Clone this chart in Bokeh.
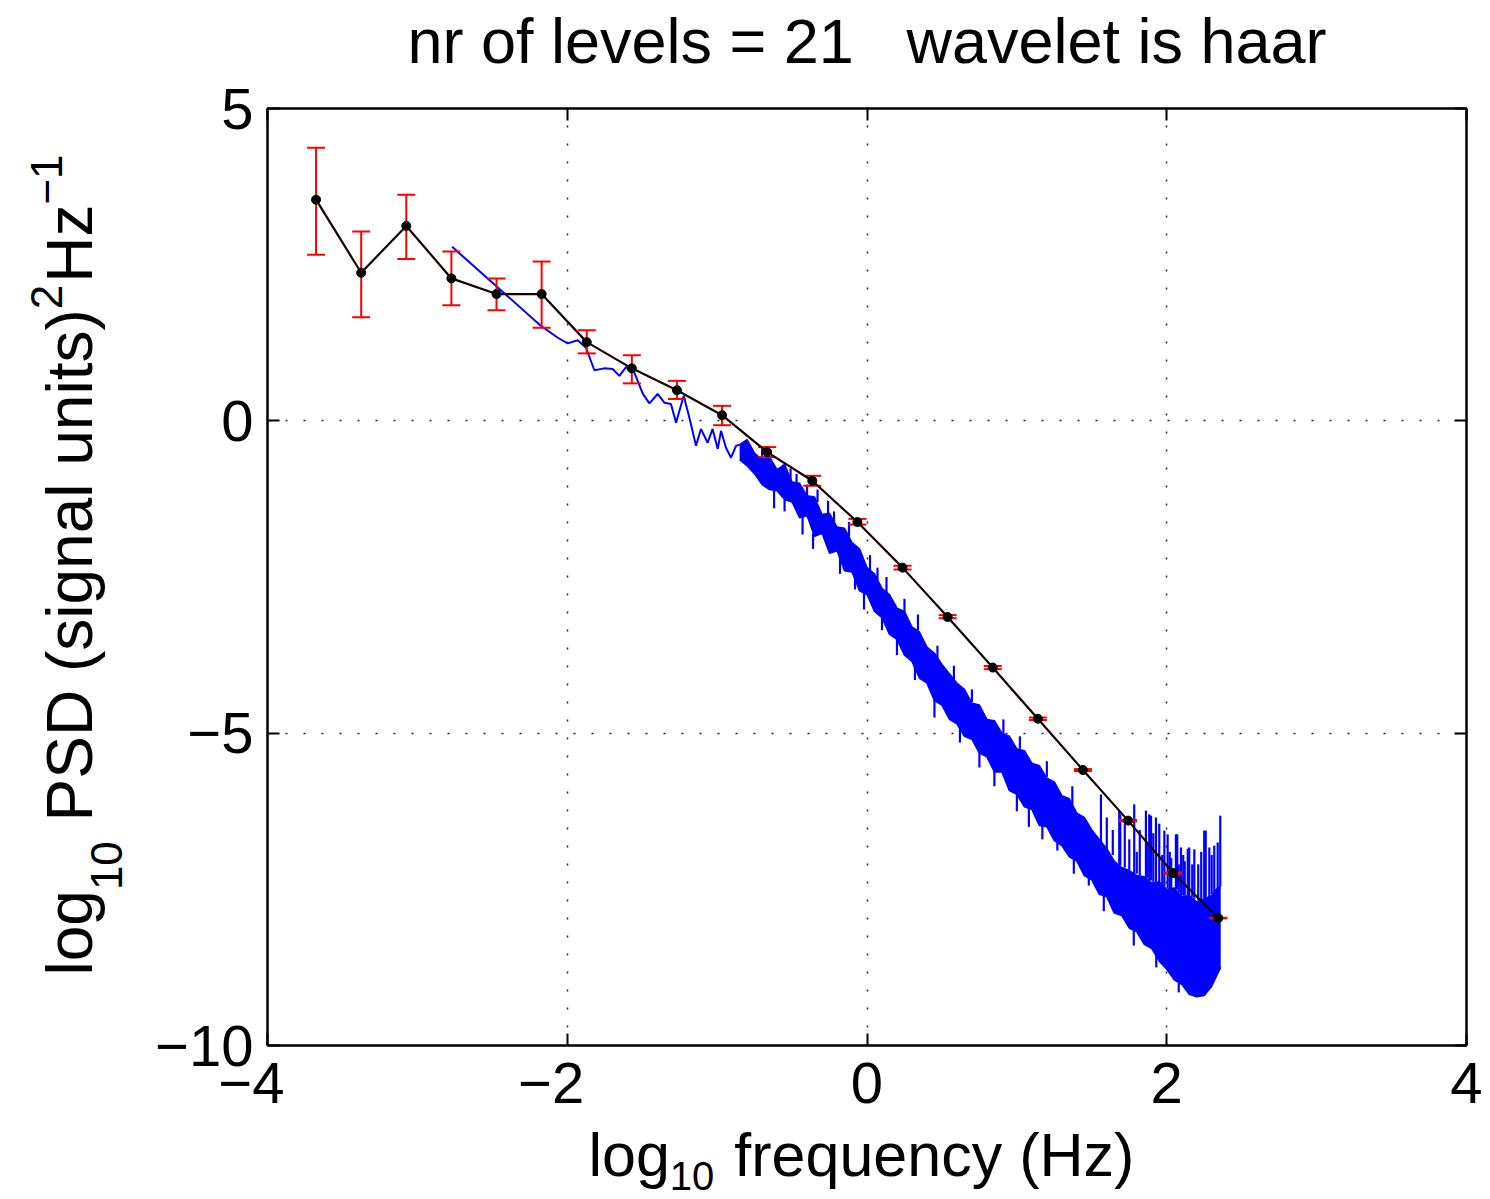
import math
from bokeh.plotting import figure
from bokeh.models import Range1d, FixedTicker, LinearAxis
from bokeh.layouts import row, column
from bokeh.core.properties import value
from bokeh.embed import file_html
from bokeh.resources import INLINE

NB = "\u00a0"
# ---------------- data ----------------
TITLE = "nr of levels = 21   wavelet is haar"
X_TICKS = [-4, -2, 0, 2, 4]
Y_TICKS = [-10, -5, 0, 5]
X_TICK_LABELS = ["\u22124" + NB + NB, "\u22122" + NB + NB, "0", "2", "4"]
Y_TICK_LABELS = ["\u221210", "\u22125", "0", "5"]
X_LABEL_PARTS = [("log", "n"), ("10", "sub"), (" frequency (Hz)", "n")]
Y_LABEL_PARTS = [("log", "n"), ("10", "sub"), (" PSD (signal units)", "n"),
                 ("2", "sup"), ("Hz", "n"), ("\u22121", "sup")]

# wavelet estimate (black dots) with error bars (red)
wav_x = [-3.676, -3.375, -3.074, -2.773, -2.472, -2.171, -1.870, -1.569, -1.268, -0.967,
         -0.666, -0.365, -0.064, 0.237, 0.538, 0.839, 1.140, 1.441, 1.742, 2.043, 2.344]
wav_y = [3.54, 2.37, 3.12, 2.28, 2.03, 2.03, 1.26, 0.84, 0.49, 0.09,
         -0.50, -0.96, -1.62, -2.35, -3.14, -3.95, -4.77, -5.59, -6.40, -7.24, -7.96]
err_lo = [2.66, 1.66, 2.59, 1.85, 1.77, 1.49, 1.08, 0.60, 0.35, -0.07,
          -0.58, -1.04, -1.66, -2.38, -3.16, -3.975, -4.79, -5.605, -6.412, -7.25, -7.965]
err_hi = [4.37, 3.03, 3.62, 2.71, 2.28, 2.55, 1.45, 1.05, 0.64, 0.24,
          -0.42, -0.88, -1.57, -2.32, -3.11, -3.925, -4.75, -5.575, -6.388, -7.23, -7.955]

# periodogram (blue), low-frequency part as a line
lf_x = [-2.768, -2.175, -2.063, -1.997, -1.930, -1.875, -1.819, -1.753, -1.697, -1.652,
        -1.608, -1.552, -1.497, -1.452, -1.397, -1.352, -1.308, -1.274, -1.223, -1.185,
        -1.141, -1.108, -1.063, -1.030, -0.996, -0.974, -0.941, -0.907, -0.874, -0.850]
lf_y = [2.785, 1.52, 1.33, 1.24, 1.29, 1.17, 0.81, 0.84, 0.83, 0.72,
        0.86, 0.77, 0.44, 0.28, 0.43, 0.29, 0.27, -0.03, 0.40, 0.05,
        -0.40, -0.13, -0.35, -0.13, -0.45, -0.16, -0.43, -0.59, -0.40, -0.38]

# periodogram, higher-frequency part as a noisy band (upper / lower envelope)
band_x = [-0.85, -0.80, -0.75, -0.70, -0.65, -0.60, -0.55, -0.50, -0.45, -0.40,
          -0.35, -0.30, -0.25, -0.20, -0.15, -0.10, -0.05, 0.00, 0.05, 0.10,
          0.15, 0.20, 0.25, 0.30, 0.35, 0.40, 0.45, 0.50, 0.55, 0.60,
          0.65, 0.70, 0.75, 0.80, 0.85, 0.90, 0.95, 1.00, 1.05, 1.10,
          1.15, 1.20, 1.25, 1.30, 1.35, 1.40, 1.45, 1.50, 1.55, 1.60,
          1.65, 1.70, 1.75, 1.80, 1.85, 1.90, 1.95, 2.00, 2.05, 2.10,
          2.15, 2.20, 2.25, 2.30, 2.33, 2.36]
band_hi = [-0.38, -0.30, -0.52, -0.62, -0.58, -0.78, -0.70, -0.98, -1.00, -1.20,
           -1.22, -1.50, -1.48, -1.70, -1.72, -1.95, -2.05, -2.35, -2.45, -2.68,
           -2.78, -3.00, -3.05, -3.30, -3.38, -3.62, -3.72, -3.90, -4.05, -4.20,
           -4.30, -4.52, -4.55, -4.78, -4.80, -5.00, -5.05, -5.25, -5.28, -5.48,
           -5.52, -5.72, -5.78, -6.00, -6.05, -6.28, -6.35, -6.55, -6.70, -6.85,
           -7.05, -7.15, -7.20, -7.28, -7.30, -7.40, -7.38, -7.50, -7.48, -7.62,
           -7.60, -7.70, -7.65, -7.60, -7.50, -7.45]
band_lo = [-0.62, -0.72, -0.85, -1.02, -1.10, -1.12, -1.26, -1.30, -1.55, -1.52,
           -1.85, -1.80, -2.12, -2.08, -2.40, -2.42, -2.72, -2.78, -3.05, -3.15,
           -3.42, -3.50, -3.75, -3.85, -4.12, -4.20, -4.48, -4.55, -4.78, -4.85,
           -5.05, -5.10, -5.32, -5.38, -5.62, -5.62, -5.92, -5.98, -6.18, -6.22,
           -6.48, -6.50, -6.72, -6.80, -6.98, -7.05, -7.28, -7.35, -7.58, -7.62,
           -7.88, -7.92, -8.12, -8.18, -8.38, -8.45, -8.65, -8.78, -8.95, -9.02,
           -9.18, -9.22, -9.20, -9.05, -8.90, -8.75]

# isolated spikes of the periodogram (x, start, end)
spike_x = [1.561, 1.683, 1.69, 1.72, 1.783, 1.82, 1.861, 1.883, 1.895, 1.928,
           1.95, 1.984, 2.006, 2.03, 2.061, 2.07, 2.095, 2.12, 2.14, 2.150,
           2.184, 2.21, 2.250, 2.26, 2.284, 2.317, 2.357,
           1.60, 1.64, 1.75, 1.80, 1.87, 1.91, 1.97, 2.02, 2.08, 2.11, 2.17, 2.23, 2.30, 2.34,
           -0.56, -0.51, -0.47, -0.33, -0.26, -0.12, 0.02, 0.13, 0.34, 0.58, 0.91,
           -0.70, -0.40, -0.22, 0.07, 0.25, 0.47, 0.70, 1.02, 1.20, 1.37,
           -0.62, -0.43, -0.36, -0.18, -0.02, 0.20, 0.45, 0.62, 0.85, 1.08, 1.27, 1.48,
           -0.55, -0.08, 0.10, 0.32, 0.75, 1.00, 1.17, 1.38, 1.58, 1.78, 1.93, 2.08]
spike_base = [-6.75, -7.10, -7.12, -7.15, -7.25, -7.28, -7.30, -7.35, -7.36, -7.38,
              -7.40, -7.45, -7.48, -7.50, -7.50, -7.50, -7.60, -7.60, -7.62, -7.60,
              -7.65, -7.68, -7.65, -7.65, -7.62, -7.55, -7.45,
              -6.85, -6.95, -7.20, -7.25, -7.32, -7.38, -7.42, -7.48, -7.55, -7.60, -7.62,
              -7.66, -7.58, -7.50,
              -0.85, -1.00, -1.05, -1.30, -1.50, -1.85, -2.40, -2.75, -3.35, -4.15, -5.00,
              -0.62, -1.20, -1.62, -2.55, -3.05, -3.80, -4.50, -5.25, -5.70, -6.15,
              -1.10, -1.53, -1.80, -2.10, -2.75, -3.50, -4.45, -4.85, -5.60, -6.15, -6.60, -7.25,
              -1.26, -2.45, -3.15, -3.90, -5.30, -5.98, -6.48, -7.02, -7.60, -8.15, -8.55, -9.00]
spike_tip = [-5.98, -6.24, -6.30, -6.45, -6.14, -6.55, -6.24, -6.30, -6.32, -6.35,
             -6.45, -6.56, -6.62, -7.00, -6.62, -6.62, -6.83, -7.05, -6.85, -6.83,
             -6.86, -7.10, -6.56, -6.56, -6.83, -6.80, -6.32,
             -6.35, -6.55, -6.70, -6.90, -6.75, -6.60, -6.95, -6.90, -7.10, -6.95, -7.10,
             -6.90, -6.95, -6.75,
             -0.70, -0.76, -0.85, -1.10, -1.28, -1.62, -2.15, -2.50, -3.10, -3.92, -4.78,
             -0.45, -1.02, -1.45, -2.35, -2.85, -3.60, -4.30, -5.05, -5.45, -5.85,
             -1.40, -1.82, -2.05, -2.45, -3.02, -3.75, -4.75, -5.15, -5.85, -6.50, -6.88, -7.44,
             -1.45, -2.70, -3.35, -4.15, -5.55, -6.25, -6.70, -7.25, -7.85, -8.40, -8.75, -9.15]

# ---------------- layout / style ----------------
W, H = 1490, 1199
YLAB_W = 150                       # strip carrying the y-axis label
MAIN_H = 1119                      # main plot height; x-label strip below
FRAME_L, FRAME_R = 267, 1466       # page x of the plot frame
L, R, T = FRAME_L - YLAB_W, W - FRAME_R, 108
B = MAIN_H - T - 937
X0, X1, Y0, Y1 = -4.0, 4.0, -10.0, 5.0
FONT = "Liberation Sans"
TICK_FS = 58
XLAB_FS, XSUB_FS = 61, 40
YLAB_FS, YSUB_FS = 64, 44
X_BASE, X_SUB_BASE = 1176, 1190
BASE_SHIFT = 0.36                  # glyph anchor sits this many em above the baseline

ARIAL = {"l": 222, "o": 556, "g": 556, "1": 556, "0": 556, " ": 278, "f": 278, "r": 333,
         "e": 556, "q": 556, "u": 556, "n": 556, "c": 500, "y": 500, "(": 333, "H": 722,
         "z": 500, ")": 333, "P": 667, "S": 667, "D": 722, "s": 500, "i": 222, "a": 556,
         "t": 278, "2": 556, "\u2212": 584}


def text_w(s, fs):
    return sum(ARIAL.get(ch, 556) for ch in s) / 1000.0 * fs


def nb(s):
    return s.replace(" ", NB)


p = figure(width=W - YLAB_W, height=MAIN_H, output_backend="svg", toolbar_location=None,
           title=None, x_range=Range1d(X0, X1), y_range=Range1d(Y0, Y1),
           min_border_left=L, min_border_right=R, min_border_top=T, min_border_bottom=B,
           background_fill_color="white", border_fill_color="white")
p.outline_line_color = "black"
p.outline_line_width = 2

for ax in (p.xaxis[0], p.yaxis[0]):
    ax.major_tick_in = 12
    ax.major_tick_out = 0
    ax.minor_tick_line_color = None
    ax.axis_line_width = 2
    ax.major_tick_line_width = 2
    ax.major_label_text_font = FONT
    ax.major_label_text_font_size = f"{TICK_FS}px"
    ax.major_label_text_color = "black"
p.xaxis[0].ticker = FixedTicker(ticks=X_TICKS)
p.yaxis[0].ticker = FixedTicker(ticks=Y_TICKS)
p.xaxis[0].major_label_overrides = {t: s for t, s in zip(X_TICKS, X_TICK_LABELS)}
p.yaxis[0].major_label_overrides = {t: s for t, s in zip(Y_TICKS, Y_TICK_LABELS)}
p.xaxis[0].major_label_standoff = 4
p.yaxis[0].major_label_standoff = 14

# top axis (ticks only) carries the title as its axis label; right axis ticks only
top_ax = LinearAxis(ticker=FixedTicker(ticks=X_TICKS), major_tick_in=12, major_tick_out=0,
                    minor_tick_line_color=None, major_label_text_font_size="0px",
                    major_label_text_color=None,
                    axis_line_width=2, major_tick_line_width=2, major_label_standoff=0,
                    axis_label=nb(TITLE), axis_label_text_font=FONT,
                    axis_label_text_font_size="63px", axis_label_text_font_style="normal",
                    axis_label_text_color="black", axis_label_standoff=33)
right_ax = LinearAxis(ticker=FixedTicker(ticks=Y_TICKS), major_tick_in=12, major_tick_out=0,
                      minor_tick_line_color=None, major_label_text_font_size="0px",
                      major_label_text_color=None,
                      axis_line_width=2, major_tick_line_width=2, major_label_standoff=0)
p.add_layout(top_ax, "above")
p.add_layout(right_ax, "right")

for g, tk in ((p.xgrid[0], X_TICKS), (p.ygrid[0], Y_TICKS)):
    g.ticker = FixedTicker(ticks=tk)
    g.grid_line_color = "black"
    g.grid_line_dash = "2 16"
    g.grid_line_width = 1.5
    g.grid_line_alpha = 0.85

BLUE = "#0000ff"
RED = "#ff0000"

# periodogram
p.varea(x=band_x, y1=band_lo, y2=band_hi, fill_color=BLUE)
p.line(band_x, band_hi, line_color=BLUE, line_width=1.5)
p.line(band_x, band_lo, line_color=BLUE, line_width=1.5)
p.segment(x0=spike_x, y0=spike_base, x1=spike_x, y1=spike_tip, line_color=BLUE, line_width=2.2)
p.line(lf_x, lf_y, line_color=BLUE, line_width=2)

# error bars
p.segment(x0=wav_x, y0=err_lo, x1=wav_x, y1=err_hi, line_color=RED, line_width=2)
p.scatter(wav_x, err_lo, marker="dash", size=18, line_color=RED, line_width=2)
p.scatter(wav_x, err_hi, marker="dash", size=18, line_color=RED, line_width=2)

# wavelet estimate
p.line(wav_x, wav_y, line_color="#150000", line_width=2.2)
p.scatter(wav_x, wav_y, marker="circle", size=9, fill_color="black", line_color="black")


def label_strip(width, height, xr, yr):
    f = figure(width=width, height=height, output_backend="svg", toolbar_location=None,
               title=None, x_range=Range1d(*xr), y_range=Range1d(*yr),
               x_axis_type=None, y_axis_type=None,
               min_border_left=0, min_border_right=0, min_border_top=0, min_border_bottom=0,
               background_fill_color="white", border_fill_color="white")
    f.outline_line_color = None
    return f


# x-axis label strip: its frame is aligned with the main frame (page x 267..1466),
# vertically it spans page y MAIN_H..H (flipped range -> page pixels)
xl = label_strip(W - YLAB_W, H - MAIN_H, (FRAME_L, FRAME_R), (H, MAIN_H))
cx = 588
for txt, kind in X_LABEL_PARTS:
    fs = XLAB_FS if kind == "n" else XSUB_FS
    base = X_BASE if kind == "n" else X_SUB_BASE
    xl.text(x=[cx], y=[base - BASE_SHIFT * fs], text=[nb(txt)], text_align=value("left"),
            text_baseline=value("alphabetic"), text_font=value(FONT),
            text_font_size=value(f"{fs}px"), text_color="black")
    cx += text_w(txt, fs) + (3 if kind != "n" else 0)

# y-axis label strip (rotated text, page pixel coordinates)
yl = label_strip(YLAB_W, H, (0, YLAB_W), (H, 0))
cy = 975
for txt, kind in Y_LABEL_PARTS:
    fs = YLAB_FS if kind == "n" else YSUB_FS
    base = {"n": 93, "sub": 122, "sup": 62}[kind]
    yl.text(x=[base - BASE_SHIFT * fs], y=[cy], text=[nb(txt)], angle=math.pi / 2,
            text_align=value("left"), text_baseline=value("alphabetic"),
            text_font=value(FONT), text_font_size=value(f"{fs}px"), text_color="black")
    cy -= text_w(txt, fs) + (2 if kind != "n" else 0)

layout = row(yl, column(p, xl, spacing=0), spacing=0)
open("out.html", "w").write(file_html(layout, INLINE))
